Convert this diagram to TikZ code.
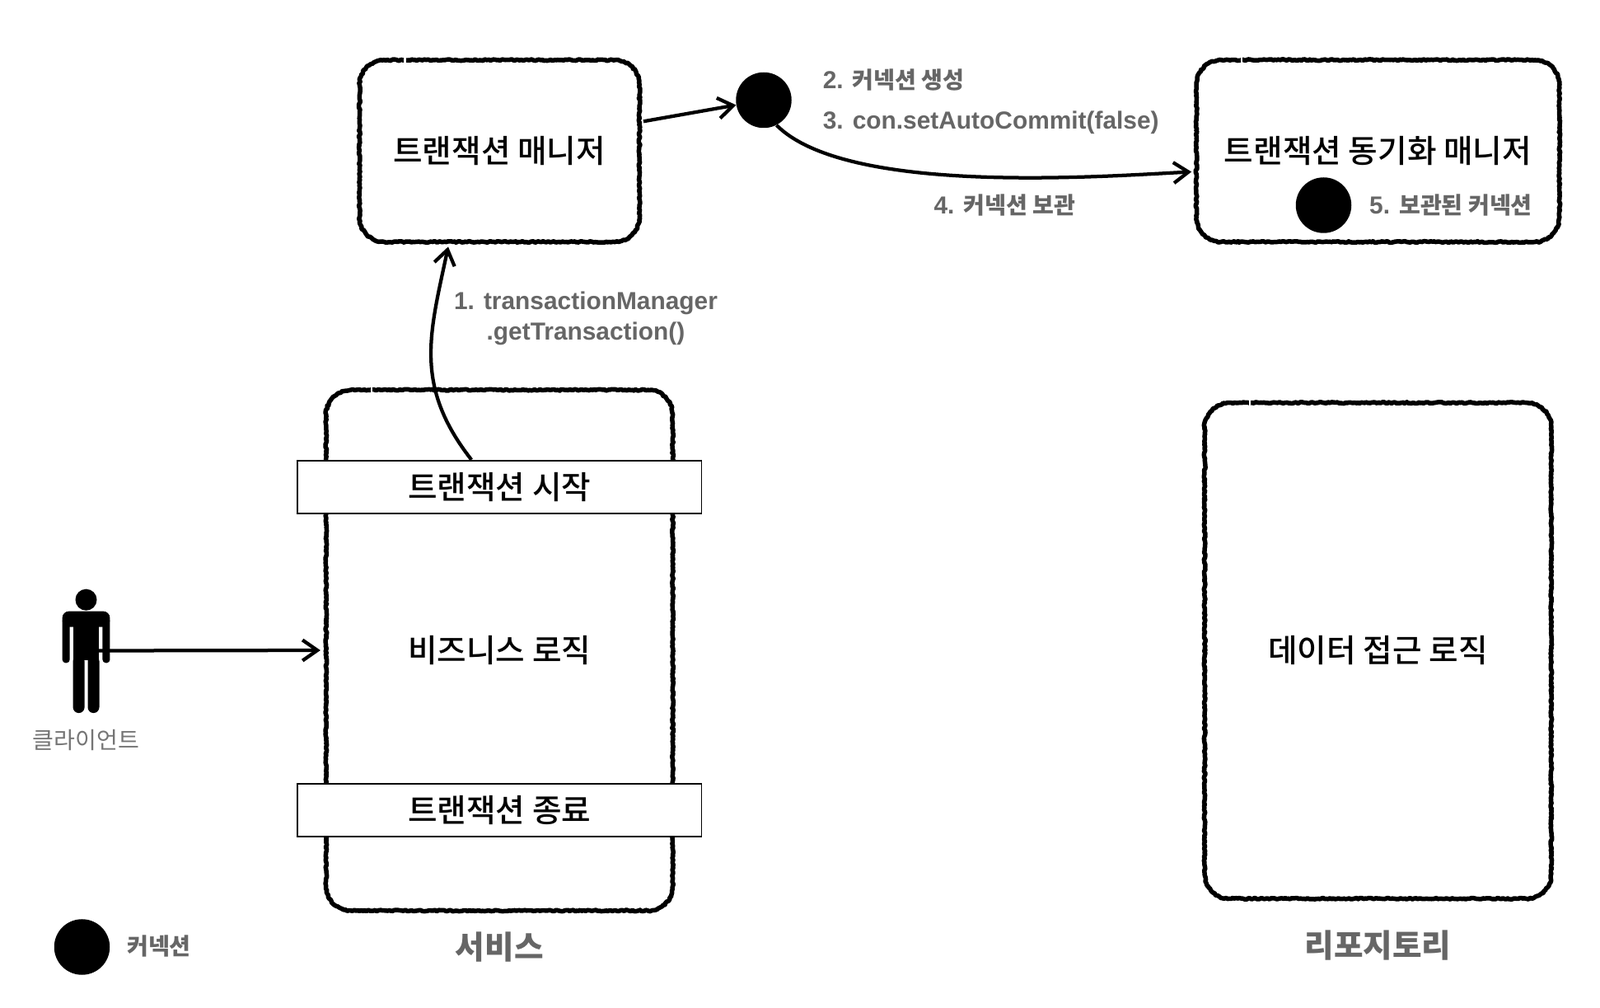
\documentclass[tikz,border=0pt]{standalone}
\usepackage{fontspec}
\setmainfont{Liberation Sans}
\newfontfamily\krfont{Noto Sans CJK KR}
\newfontfamily\krmedium{Noto Sans CJK KR Medium}
\newcommand{\kr}[1]{{\krfont\fontsize{16}{21}\selectfont #1}}
\usetikzlibrary{arrows.meta}
\usetikzlibrary{decorations.pathmorphing}
\definecolor{labelgray}{HTML}{666666}
\tikzset{
    >={Straight Barb[length=0.36cm,width=0.5cm]},
    sketchbox/.style={inner sep=0pt, font=\krmedium\fontsize{22}{26}\selectfont},
    sketchline/.style={line width=0.11cm, line join=round, line cap=round, decorate, decoration={random steps, segment length=1.2pt, amplitude=0.5pt}},
    barbox/.style={draw, fill=white, line width=0.035cm, minimum width=9.81cm, minimum height=1.29cm, inner sep=0pt, font=\krmedium\fontsize{22}{26}\selectfont},
    conndot/.style={circle, fill=black, minimum size=1.35cm, inner sep=0pt},
    steplabel/.style={text=labelgray, align=center, inner sep=0pt, font=\bfseries\fontsize{17}{21}\selectfont},
    caption/.style={text=labelgray, inner sep=0pt, font=\krfont\bfseries\fontsize{22}{26}\selectfont},
    flow/.style={->, line width=0.085cm},
    strokegap/.style={white, line width=0.05cm}
}
\begin{document}
\begin{tikzpicture}
    \useasboundingbox (0,0) rectangle (38.84,24.44);

    \node[sketchbox, minimum width=6.78cm, minimum height=4.4cm] (manager) at (12.125,20.777) {트랜잭션 매니저};
    \node[sketchbox, minimum width=8.8cm, minimum height=4.4cm] (sync) at (33.45,20.777) {트랜잭션 동기화 매니저};
    \node[sketchbox, minimum width=8.4cm, minimum height=12.62cm] (service) at (12.125,8.66) {비즈니스 로직};
    \node[sketchbox, minimum width=8.4cm, minimum height=12.02cm] (repo) at (33.45,8.65) {데이터 접근 로직};

    \foreach \boxname in {manager,sync,service,repo} {
        \draw[sketchline] ([xshift=0.6cm]\boxname.north west) -- ([xshift=-0.6cm]\boxname.north east)
            arc[start angle=90, end angle=0, radius=0.6] -- ([yshift=0.6cm]\boxname.south east)
            arc[start angle=0, end angle=-90, radius=0.6] -- ([xshift=0.6cm]\boxname.south west)
            arc[start angle=270, end angle=180, radius=0.6] -- ([yshift=-0.6cm]\boxname.north west)
            arc[start angle=180, end angle=90, radius=0.6];
        \draw[strokegap] ([xshift=1.1cm,yshift=-0.1cm]\boxname.north west) -- ++(0,0.2);
    }

    \node[barbox] (startbar) at (12.125,12.62) {트랜잭션 시작};
    \node[barbox] (endbar) at (12.125,4.78) {트랜잭션 종료};

    \node[conndot] (conn) at (18.54,22.01) {};
    \node[conndot] (syncconn) at (32.13,19.46) {};
    \node[conndot] (legendconn) at (1.99,1.46) {};

    \node[steplabel] (steponelabel) at (14.22,16.71) {1. transactionManager\\.getTransaction()};
    \node[steplabel, anchor=west] (steptwolabel) at (19.97,22.51) {2. \kr{커넥션 생성}};
    \node[steplabel, anchor=west] (stepthreelabel) at (19.97,21.47) {3. con.setAutoCommit(false)};
    \node[steplabel] (stepfourlabel) at (24.39,19.47) {4. \kr{커넥션 보관}};
    \node[steplabel] (stepfivelabel) at (35.22,19.47) {5. \kr{보관된 커넥션}};
    \node[steplabel] (legendlabel) at (3.86,1.48) {\kr{커넥션}};

    \node[caption] (servicelabel) at (12.125,1.46) {서비스};
    \node[caption] (repolabel) at (33.45,1.5) {리포지토리};
    \node[text=labelgray!90, inner sep=0pt, font=\krfont\fontsize{16}{20}\selectfont] (clientlabel) at (2.09,6.48) {클라이언트};

    \fill (2.09,9.886) circle (0.26);
    \fill[rounded corners=0.16cm] (1.513,9.229) rectangle (2.668,9.607);
    \foreach \armx in {1.513,2.489}
        \fill[rounded corners=0.08cm] (\armx,8.353) rectangle ++(0.18,1.1);
    \fill (1.772,8.412) rectangle (2.409,9.37);
    \foreach \legx in {1.772,2.13}
        \fill[rounded corners=0.14cm] (\legx,7.138) rectangle ++(0.28,1.4);
    \coordinate (clientarm) at (2.39,8.65);

    \draw[flow, shorten >=0.14cm] (clientarm) -- (service.west);
    \draw[flow, shorten >=0.12cm] ([xshift=-0.68cm]startbar.north) to[out=128, in=-102, looseness=1.1] ([xshift=-1.22cm]manager.south);
    \draw[flow, shorten <=0.1cm] ([yshift=0.7cm]manager.east) -- (conn);
    \draw[flow, shorten >=0.12cm] (conn.-63) to[out=-45, in=183, looseness=0.6] ([yshift=-0.5cm]sync.west);
\end{tikzpicture}
\end{document}
